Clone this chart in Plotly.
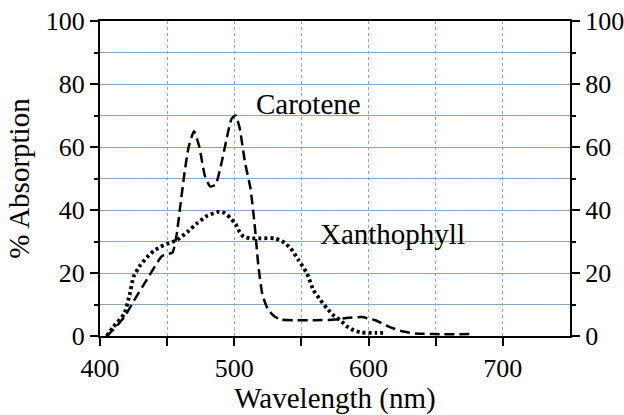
import plotly.graph_objects as go

# Carotene absorption (dashed)
carotene_wl = [405, 410, 418, 425, 435, 446, 450, 454, 457, 460, 463, 466, 470, 474, 478, 482,
               486, 490, 494, 498, 501, 504, 508, 512, 515, 518, 521, 525, 530, 535, 545, 560,
               575, 585, 595, 605, 615, 625, 635, 650, 675]
carotene_abs = [0, 2, 6, 11, 18, 25.3, 26, 26.5, 32, 42, 52, 60, 65, 60, 51, 47.5,
                48, 54, 62, 69, 70, 66, 55, 47, 36, 22, 13, 8.5, 6.2, 5.2, 5, 5,
                5.2, 5.8, 6, 5, 3, 1.5, 0.8, 0.6, 0.6]

# Xanthophyll absorption (dotted)
xan_wl = [405, 410, 418, 422, 425, 430, 435, 440, 445, 450, 457, 465, 472, 480, 488, 493,
          497, 501, 504, 507, 512, 520, 530, 536, 542, 548, 554, 559, 564, 569, 574, 579,
          584, 589, 595, 605, 613]
xan_abs = [0, 2.9, 7, 13, 18.8, 22.5, 25, 27, 28.3, 29.3, 30.4, 33, 35.7, 38.2, 39.4, 39,
           37.5, 35.5, 33, 31.5, 31, 31, 31, 30, 27.8, 24, 20, 14.5, 11.5, 8.8, 6.5, 5,
           3, 1.8, 1.1, 1, 1]

x_tickvals = [400, 450, 500, 550, 600, 650, 700]
x_ticktext = ["400", "", "500", "", "600", "", "700"]
y_tickvals = [0, 20, 40, 60, 80, 100]

FONT = "Liberation Serif"

fig = go.Figure()
fig.add_trace(go.Scatter(x=carotene_wl, y=carotene_abs, mode="lines",
                         line=dict(color="black", width=2.5, dash="10px,5px", shape="spline", smoothing=0.5),
                         showlegend=False))
fig.add_trace(go.Scatter(x=xan_wl, y=xan_abs, mode="lines",
                         line=dict(color="black", width=3.8, dash="3px,3px", shape="spline", smoothing=0.5),
                         showlegend=False))

fig.add_annotation(x=515, y=73.5, xref="x", yref="y", text="Carotene", showarrow=False,
                   xanchor="left", yanchor="middle", font=dict(family=FONT, size=29, color="black"))
fig.add_annotation(x=562, y=32.5, xref="x", yref="y", text="Xanthophyll", showarrow=False,
                   xanchor="left", yanchor="middle", font=dict(family=FONT, size=29, color="black"))

fig.update_layout(
    width=624, height=415,
    margin=dict(l=100, r=54, t=21, b=79),
    paper_bgcolor="white", plot_bgcolor="white",
    font=dict(family=FONT, color="black"),
    xaxis=dict(
        range=[400, 750], tickvals=x_tickvals, ticktext=x_ticktext, automargin=False,
        ticks="outside", ticklen=8, tickwidth=2, tickcolor="black",
        showline=True, linecolor="black", linewidth=2, mirror=True,
        showgrid=True, gridcolor="#7fb0d4", griddash="dot", gridwidth=1,
        zeroline=False,
        tickfont=dict(family=FONT, size=26, color="black"),
        title=dict(text="Wavelength (nm)", font=dict(family=FONT, size=29, color="black"), standoff=2),
    ),
    yaxis=dict(
        range=[0, 100], tickvals=y_tickvals, automargin=False,
        ticks="outside", ticklen=8, tickwidth=2, tickcolor="black",
        showline=True, linecolor="black", linewidth=2,
        showgrid=True, gridcolor="#8aa6bc", gridwidth=1,
        zeroline=False,
        minor=dict(dtick=10, ticks="outside", ticklen=4, tickwidth=2, tickcolor="black",
                   showgrid=True, gridcolor="#8aa6bc", gridwidth=1),
        tickfont=dict(family=FONT, size=26, color="black"),
        title=dict(text="% Absorption", font=dict(family=FONT, size=29, color="black"), standoff=8),
    ),
    yaxis2=dict(
        range=[0, 100], tickvals=y_tickvals, overlaying="y", side="right", automargin=False,
        ticks="outside", ticklen=8, tickwidth=2, tickcolor="black",
        showline=True, linecolor="black", linewidth=2,
        showgrid=False, zeroline=False,
        minor=dict(dtick=10, ticks="outside", ticklen=4, tickwidth=2, tickcolor="black", showgrid=False),
        tickfont=dict(family=FONT, size=26, color="black"),
    ),
)
fig.add_trace(go.Scatter(x=[None], y=[None], yaxis="y2", showlegend=False, hoverinfo="skip"))

fig.write_html("out.html")
